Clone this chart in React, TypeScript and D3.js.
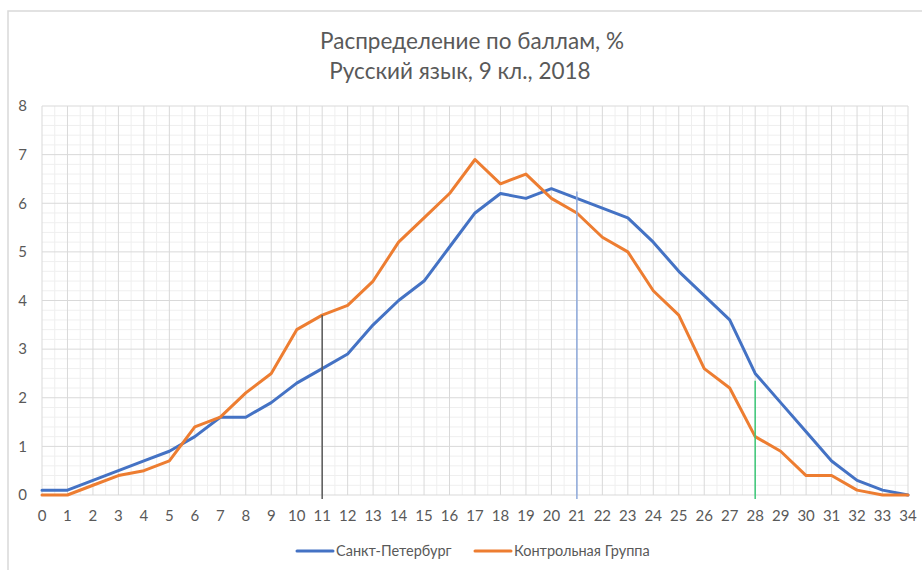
import { useEffect, useRef } from 'react';
import * as d3 from 'd3';

const scores = d3.range(0, 35);
const spbValues = [
  0.1, 0.1, 0.3, 0.5, 0.7, 0.9, 1.2, 1.6, 1.6, 1.9, 2.3, 2.6, 2.9, 3.5, 4.0, 4.4, 5.1, 5.8,
  6.2, 6.1, 6.3, 6.1, 5.9, 5.7, 5.2, 4.6, 4.1, 3.6, 2.5, 1.9, 1.3, 0.7, 0.3, 0.1, 0.0,
];
const controlValues = [
  0.0, 0.0, 0.2, 0.4, 0.5, 0.7, 1.4, 1.6, 2.1, 2.5, 3.4, 3.7, 3.9, 4.4, 5.2, 5.7, 6.2, 6.9,
  6.4, 6.6, 6.1, 5.8, 5.3, 5.0, 4.2, 3.7, 2.6, 2.2, 1.2, 0.9, 0.4, 0.4, 0.1, 0.0, 0.0,
];
const seriesNames = ['Санкт-Петербург', 'Контрольная Группа'];
const seriesColors = ['#4472C4', '#ED7D31'];
const yTicks = [0, 1, 2, 3, 4, 5, 6, 7, 8];
// vertical marker lines: score, top value, colour
const markers = [
  { score: 11, top: 3.7, color: '#595959' },
  { score: 21, top: 6.24, color: '#8FAADC' },
  { score: 28, top: 2.35, color: '#3CC878' },
];
const titleLines = ['Распределение по баллам, %', 'Русский язык, 9 кл., 2018'];

export default function App() {
  const svgRef = useRef<SVGSVGElement>(null);

  useEffect(() => {
    if (!svgRef.current) return;
    const svg = d3.select(svgRef.current);
    svg.selectAll('*').remove();

    const width = 922;
    const height = 570;
    const margin = { top: 106, right: 14, bottom: 75, left: 42 };
    const innerW = width - margin.left - margin.right;
    const innerH = height - margin.top - margin.bottom;
    const font = 'Lato, Carlito, "Open Sans", sans-serif';

    // chart frame (only left and top edge visible)
    svg.append('rect')
      .attr('x', 8).attr('y', 11)
      .attr('width', 940).attr('height', 600)
      .attr('fill', '#fff')
      .attr('stroke', '#d9d9d9')
      .attr('stroke-width', 1.5);

    const x = d3.scaleLinear().domain([0, 34]).range([0, innerW]);
    const y = d3.scaleLinear().domain([0, 8]).range([innerH, 0]);

    const g = svg.append('g').attr('transform', `translate(${margin.left},${margin.top})`);

    // minor grid
    const minorX = d3.range(0.5, 34, 1);
    const minorY = d3.range(0, 8.001, 0.2).filter(v => Math.abs(v - Math.round(v)) > 0.01);
    g.append('g').selectAll('line').data(minorX).join('line')
      .attr('x1', d => x(d)).attr('x2', d => x(d))
      .attr('y1', 0).attr('y2', innerH)
      .attr('stroke', '#efefef').attr('stroke-width', 1);
    g.append('g').selectAll('line').data(minorY).join('line')
      .attr('x1', 0).attr('x2', innerW)
      .attr('y1', d => y(d)).attr('y2', d => y(d))
      .attr('stroke', '#efefef').attr('stroke-width', 1);

    // major grid
    g.append('g').selectAll('line').data(scores).join('line')
      .attr('x1', d => x(d)).attr('x2', d => x(d))
      .attr('y1', 0).attr('y2', innerH)
      .attr('stroke', '#d9d9d9').attr('stroke-width', 1);
    g.append('g').selectAll('line').data(yTicks).join('line')
      .attr('x1', 0).attr('x2', innerW)
      .attr('y1', d => y(d)).attr('y2', d => y(d))
      .attr('stroke', '#d9d9d9').attr('stroke-width', 1);

    // axis labels
    g.append('g').selectAll('text').data(yTicks).join('text')
      .attr('x', -15).attr('y', d => y(d))
      .attr('dy', '0.35em')
      .attr('text-anchor', 'end')
      .attr('font-family', font).attr('font-size', 15)
      .attr('fill', '#595959')
      .text(d => d);
    g.append('g').selectAll('text').data(scores).join('text')
      .attr('x', d => x(d)).attr('y', innerH + 21)
      .attr('dy', '0.35em')
      .attr('text-anchor', 'middle')
      .attr('font-family', font).attr('font-size', 15)
      .attr('fill', '#595959')
      .text(d => d);

    // series lines
    const line = d3.line<number>()
      .x((_, i) => x(scores[i]))
      .y(d => y(d));
    [spbValues, controlValues].forEach((vals, i) => {
      g.append('path')
        .datum(vals)
        .attr('fill', 'none')
        .attr('stroke', seriesColors[i])
        .attr('stroke-width', 3)
        .attr('stroke-linejoin', 'round')
        .attr('stroke-linecap', 'round')
        .attr('d', line);
    });

    // marker lines
    g.append('g').selectAll('line').data(markers).join('line')
      .attr('x1', d => x(d.score)).attr('x2', d => x(d.score))
      .attr('y1', d => y(d.top)).attr('y2', innerH + 4)
      .attr('stroke', d => d.color)
      .attr('stroke-width', 1.5);

    // title
    svg.append('text')
      .attr('x', 472).attr('y', 41)
      .attr('dy', '0.35em')
      .attr('text-anchor', 'middle')
      .attr('font-family', font).attr('font-size', 22.5)
      .attr('fill', '#595959')
      .text(titleLines[0]);
    svg.append('text')
      .attr('x', 460).attr('y', 71)
      .attr('dy', '0.35em')
      .attr('text-anchor', 'middle')
      .attr('font-family', font).attr('font-size', 22.5)
      .attr('fill', '#595959')
      .text(titleLines[1]);

    // legend
    const legendItems = [
      { name: seriesNames[0], color: seriesColors[0], x0: 297 },
      { name: seriesNames[1], color: seriesColors[1], x0: 475 },
    ];
    const lg = svg.append('g');
    legendItems.forEach(item => {
      lg.append('line')
        .attr('x1', item.x0).attr('x2', item.x0 + 36)
        .attr('y1', 551).attr('y2', 551)
        .attr('stroke', item.color).attr('stroke-width', 3)
        .attr('stroke-linecap', 'round');
      lg.append('text')
        .attr('x', item.x0 + 39).attr('y', 551)
        .attr('dy', '0.35em')
        .attr('font-family', font).attr('font-size', 14.5)
        .attr('fill', '#595959')
        .text(item.name);
    });
  }, []);

  return (
    <>
      <style>{`body{margin:0}`}</style>
      <svg ref={svgRef} width={922} height={570} style={{ display: 'block' }} />
    </>
  );
}
